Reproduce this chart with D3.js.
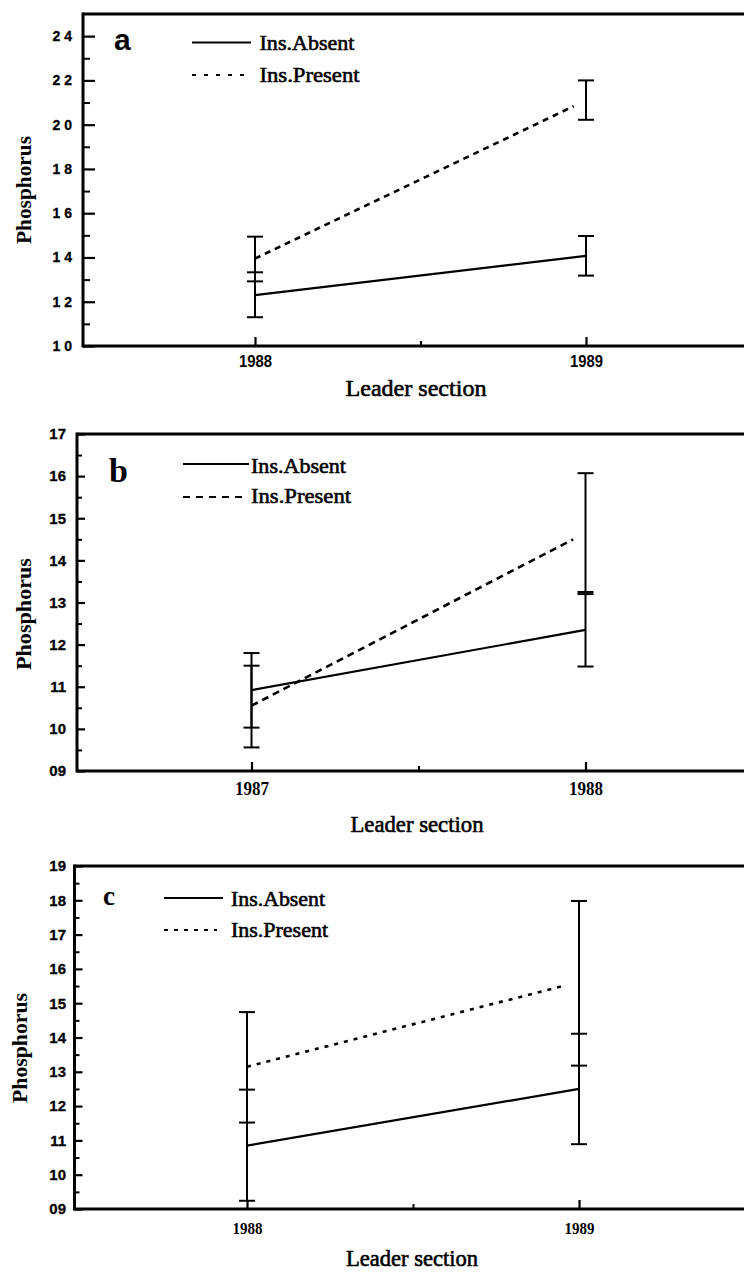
<!DOCTYPE html>
<html><head><meta charset="utf-8">
<script src="https://cdn.jsdelivr.net/npm/d3@7"></script>
<style>body{margin:0;background:#fff}svg{display:block}</style>
</head><body>
<svg id="chart" width="744" height="1274"></svg>
<script>
// ---------------- DATA ----------------
// Panel a
const yearsA = [1988, 1989];
const absentA = [12.3, 14.07];
const absentLoA = [11.3, 13.18];
const absentHiA = [13.33, 14.97];
const presentA = [13.95, 21.1];
const presentLoA = [12.92, 20.22];
const presentHiA = [14.94, 22.0];
const yMajorA = [10, 12, 14, 16, 18, 20, 22, 24];
const yMinorA = [11, 13, 15, 17, 19, 21, 23];
const yLabelsA = ["10", "12", "14", "16", "18", "20", "22", "24"];
const xLabelsA = ["1988", "1989"];

// Panel b
const yearsB = [1987, 1988];
const absentB = [10.92, 12.35];
const absentLoB = [10.03, 11.48];
const absentHiB = [11.8, 13.2];
const presentB = [10.55, 14.65];
const presentLoB = [9.56, 13.25];
const presentHiB = [11.5, 16.07];
const yMajorB = [9, 10, 11, 12, 13, 14, 15, 16, 17];
const yMinorB = [9.5, 10.5, 11.5, 12.5, 13.5, 14.5, 15.5, 16.5];
const yLabelsB = ["09", "10", "11", "12", "13", "14", "15", "16", "17"];
const xLabelsB = ["1987", "1988"];

// Panel c
const yearsC = [1988, 1989];
const absentC = [10.85, 12.5];
const absentLoC = [9.24, 10.89];
const absentHiC = [12.48, 14.11];
const presentC = [13.15, 15.62];
const presentLoC = [11.52, 13.18];
const presentHiC = [14.74, 17.98];
const yMajorC = [9, 10, 11, 12, 13, 14, 15, 16, 17, 18, 19];
const yMinorC = [9.5, 10.5, 11.5, 12.5, 13.5, 14.5, 15.5, 16.5, 17.5, 18.5];
const yLabelsC = ["09", "10", "11", "12", "13", "14", "15", "16", "17", "18", "19"];
const xLabelsC = ["1988", "1989"];

const legendNames = ["Ins.Absent", "Ins.Present"];
const panelLetters = ["a", "b", "c"];
const yTitle = "Phosphorus";
const xTitle = "Leader section";

// ---------------- LAYOUT ----------------
const SERIF = "'Liberation Serif','Times New Roman',serif";
const SANS = "'Liberation Sans',Arial,sans-serif";
const W = 744;

const panels = [
  {
    letter: panelLetters[0], years: yearsA, absent: absentA, absentLo: absentLoA, absentHi: absentHiA,
    present: presentA, presentLo: presentLoA, presentHi: presentHiA,
    yMajor: yMajorA, yMinor: yMinorA, yLabels: yLabelsA, xLabels: xLabelsA,
    yDomain: [10, 25],
    left: 83, top: 14, bottom: 346, xPx: [255, 586],
    yLabelRight: 72, yLabelSpacing: 4, yLabelSize: 14,
    xLabelFont: SANS, xLabelSize: 16, xLabelBaseline: 367, xLabelLen: 33,
    letterFont: SANS, letterSize: 30, letterX: 114, letterY: 50,
    leg: {x1: 192, x2: 251, y1: 42.5, y2: 75, tx: 259.5, ty1: 50, ty2: 82, w1: 95, w2: 100, dash: "4,8"},
    dash: "6,5",
    yTitleX: 24, yTitleY: 190, yTitleLen: 108,
    xTitleX: 416, xTitleY: 396, xTitleLen: 141,
    majorLen: 12, minorLen: 7
  },
  {
    letter: panelLetters[1], years: yearsB, absent: absentB, absentLo: absentLoB, absentHi: absentHiB,
    present: presentB, presentLo: presentLoB, presentHi: presentHiB,
    yMajor: yMajorB, yMinor: yMinorB, yLabels: yLabelsB, xLabels: xLabelsB,
    yDomain: [9, 17],
    left: 77, top: 434, bottom: 771, xPx: [251.5, 585.5],
    yLabelRight: 66, yLabelSpacing: 0, yLabelSize: 15,
    xLabelFont: SERIF, xLabelSize: 18, xLabelBaseline: 795, xLabelLen: 34,
    letterFont: SERIF, letterSize: 34, letterX: 109, letterY: 482,
    leg: {x1: 183, x2: 249, y1: 464, y2: 497, tx: 251, ty1: 473, ty2: 503, w1: 95, w2: 100, dash: "7,6"},
    dash: "7,5",
    yTitleX: 24, yTitleY: 614, yTitleLen: 112,
    xTitleX: 417, xTitleY: 832, xTitleLen: 133,
    majorLen: 8, minorLen: 5
  },
  {
    letter: panelLetters[2], years: yearsC, absent: absentC, absentLo: absentLoC, absentHi: absentHiC,
    present: presentC, presentLo: presentLoC, presentHi: presentHiC,
    yMajor: yMajorC, yMinor: yMinorC, yLabels: yLabelsC, xLabels: xLabelsC,
    yDomain: [9, 19],
    left: 74.5, top: 866, bottom: 1209, xPx: [247, 579],
    yLabelRight: 66, yLabelSpacing: 0, yLabelSize: 15,
    xLabelFont: SERIF, xLabelSize: 17, xLabelBaseline: 1234, xLabelLen: 30,
    letterFont: SERIF, letterSize: 27, letterX: 103, letterY: 905,
    leg: {x1: 164, x2: 223, y1: 898, y2: 930, tx: 231, ty1: 906, ty2: 937, w1: 94, w2: 97, dash: "4,6"},
    dash: "4,6",
    yTitleX: 20, yTitleY: 1048, yTitleLen: 110,
    xTitleX: 412, xTitleY: 1266, xTitleLen: 132,
    majorLen: 8, minorLen: 5
  }
];

const svg = d3.select("#chart");

panels.forEach(p => {
  const g = svg.append("g");
  const x = d3.scaleLinear().domain(p.years).range(p.xPx);
  const y = d3.scaleLinear().domain(p.yDomain).range([p.bottom, p.top]);

  // Y axis ticks (inward)
  const yAx = g.append("g").attr("transform", `translate(${p.left},0)`)
    .call(d3.axisLeft(y).tickValues(p.yMajor).tickSize(-p.majorLen).tickPadding(p.left - p.yLabelRight)
      .tickFormat((d, i) => p.yLabels[i]));
  yAx.select(".domain").remove();
  yAx.selectAll("line").attr("stroke", "#000").attr("stroke-width", 2.2);
  yAx.selectAll("text").attr("font-family", SANS).attr("font-weight", "bold")
    .attr("font-size", p.yLabelSize).attr("fill", "#000")
    .attr("letter-spacing", p.yLabelSpacing)
    .attr("dx", p.yLabelSpacing)
    .attr("stroke", "#000").attr("stroke-width", 0.3);
  const yMin = g.append("g").attr("transform", `translate(${p.left},0)`)
    .call(d3.axisLeft(y).tickValues(p.yMinor).tickSize(-p.minorLen).tickFormat(""));
  yMin.select(".domain").remove();
  yMin.selectAll("line").attr("stroke", "#000").attr("stroke-width", 2);

  // X axis ticks (inward)
  const xAx = g.append("g").attr("transform", `translate(0,${p.bottom})`)
    .call(d3.axisBottom(x).tickValues(p.years).tickSize(-9).tickFormat((d, i) => p.xLabels[i]));
  xAx.select(".domain").remove();
  xAx.selectAll("line").attr("stroke", "#000").attr("stroke-width", 2.2);
  xAx.selectAll("text").attr("font-family", p.xLabelFont).attr("font-weight", "bold")
    .attr("font-size", p.xLabelSize).attr("fill", "#000")
    .attr("y", null).attr("dy", null)
    .attr("textLength", p.xLabelLen).attr("lengthAdjust", "spacingAndGlyphs")
    .attr("transform", `translate(0,${p.xLabelBaseline - p.bottom})`);
  const xMinorVals = [(p.years[0] + p.years[1]) / 2];
  const xMin = g.append("g").attr("transform", `translate(0,${p.bottom})`)
    .call(d3.axisBottom(x).tickValues(xMinorVals).tickSize(-5).tickFormat(""));
  xMin.select(".domain").remove();
  xMin.selectAll("line").attr("stroke", "#000").attr("stroke-width", 2);

  // Frame: left, bottom, top
  g.append("line").attr("x1", p.left).attr("x2", p.left).attr("y1", p.top - 1.5).attr("y2", p.bottom + 1.5)
    .attr("stroke", "#000").attr("stroke-width", 3);
  g.append("line").attr("x1", p.left).attr("x2", W).attr("y1", p.bottom).attr("y2", p.bottom)
    .attr("stroke", "#000").attr("stroke-width", 3);
  g.append("line").attr("x1", p.left).attr("x2", W).attr("y1", p.top).attr("y2", p.top)
    .attr("stroke", "#000").attr("stroke-width", 3);

  // Error bars
  const capW = 16;
  const bars = [];
  p.years.forEach((yr, i) => {
    bars.push({x: yr, lo: p.absentLo[i], hi: p.absentHi[i]});
    bars.push({x: yr, lo: p.presentLo[i], hi: p.presentHi[i]});
  });
  bars.forEach(b => {
    g.append("line").attr("x1", x(b.x)).attr("x2", x(b.x)).attr("y1", y(b.lo)).attr("y2", y(b.hi))
      .attr("stroke", "#000").attr("stroke-width", 2);
    [b.lo, b.hi].forEach(v => {
      g.append("line").attr("x1", x(b.x) - capW / 2).attr("x2", x(b.x) + capW / 2)
        .attr("y1", y(v)).attr("y2", y(v)).attr("stroke", "#000").attr("stroke-width", 2);
    });
  });

  // Lines
  const line = d3.line().x(d => x(d[0])).y(d => y(d[1]));
  g.append("path").datum(p.years.map((yr, i) => [yr, p.absent[i]]))
    .attr("d", line).attr("fill", "none").attr("stroke", "#000").attr("stroke-width", 2.2);
  // dashed series stops just short of the second error bar, as in the original figure
  const pts = p.years.map((yr, i) => [yr, p.present[i]]);
  const endT = 0.963;
  const dashedPts = [pts[0], [pts[0][0] + (pts[1][0] - pts[0][0]) * endT, pts[0][1] + (pts[1][1] - pts[0][1]) * endT]];
  g.append("path").datum(dashedPts)
    .attr("d", line).attr("fill", "none").attr("stroke", "#000").attr("stroke-width", 2.6)
    .attr("stroke-dasharray", p.dash);

  // Panel letter
  g.append("text").attr("x", p.letterX).attr("y", p.letterY).text(p.letter)
    .attr("font-family", p.letterFont).attr("font-weight", "bold").attr("font-size", p.letterSize);

  // Legend
  const L = p.leg;
  g.append("line").attr("x1", L.x1).attr("x2", L.x2).attr("y1", L.y1).attr("y2", L.y1)
    .attr("stroke", "#000").attr("stroke-width", 2);
  g.append("line").attr("x1", L.x1).attr("x2", L.x2 - 6).attr("y1", L.y2).attr("y2", L.y2)
    .attr("stroke", "#000").attr("stroke-width", 2.2).attr("stroke-dasharray", L.dash);
  [[legendNames[0], L.ty1, L.w1], [legendNames[1], L.ty2, L.w2]].forEach(([t, ty, w]) => {
    g.append("text").attr("x", L.tx).attr("y", ty).text(t)
      .attr("font-family", SERIF).attr("font-size", 22)
      .attr("textLength", w).attr("lengthAdjust", "spacingAndGlyphs")
      .attr("stroke", "#000").attr("stroke-width", 0.6);
  });

  // Axis titles
  g.append("text").attr("transform", `translate(${p.yTitleX + 7},${p.yTitleY}) rotate(-90)`)
    .attr("text-anchor", "middle").text(yTitle)
    .attr("font-family", SERIF).attr("font-weight", "bold").attr("font-size", 21)
    .attr("textLength", p.yTitleLen).attr("lengthAdjust", "spacingAndGlyphs");
  g.append("text").attr("x", p.xTitleX).attr("y", p.xTitleY).attr("text-anchor", "middle").text(xTitle)
    .attr("font-family", SERIF).attr("font-size", 23)
    .attr("textLength", p.xTitleLen).attr("lengthAdjust", "spacingAndGlyphs")
    .attr("stroke", "#000").attr("stroke-width", 0.6);
});
</script>
</body></html>
